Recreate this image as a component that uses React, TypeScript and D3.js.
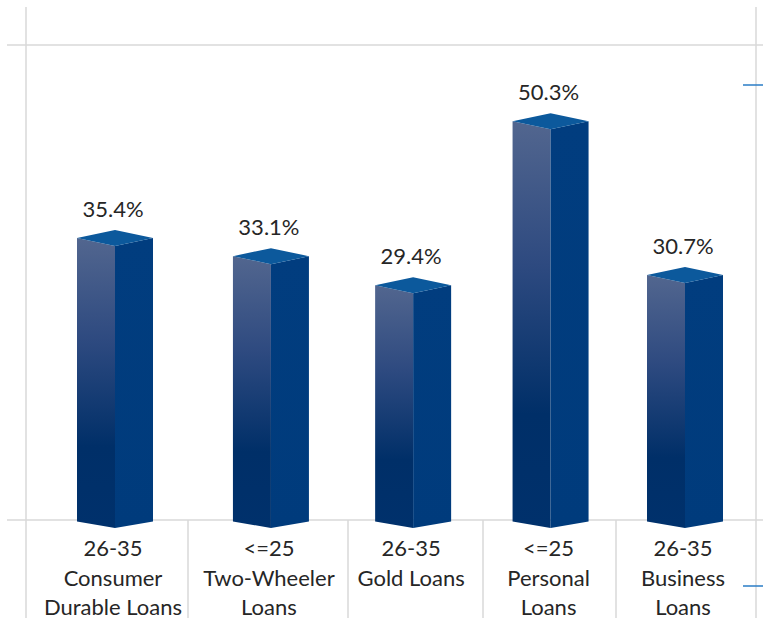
import React from "react";
import * as d3 from "d3";

const ageGroups = ["26-35", "<=25", "26-35", "<=25", "26-35"];
const loanTypes = [["Consumer", "Durable Loans"], ["Two-Wheeler", "Loans"], ["Gold Loans"], ["Personal", "Loans"], ["Business", "Loans"]];
const values = [35.4, 33.1, 29.4, 50.3, 30.7];
const yTicks = [0, 60];

const W = 763, H = 622;
const FONT = "Lato, 'Open Sans', sans-serif";

export default function App() {
  const y = d3.scaleLinear().domain([0, 60]).range([516, 45]);
  // slight perspective spacing of bar centres
  const xBar = d3.scalePow().exponent(0.935).domain([0, values.length - 1]).range([115, 685]);
  const xCell = d3.scaleLinear().domain([0, 1, 2, 3, 4, 5]).range([26, 188, 348, 483, 616, 756]);
  const half = 38, depth = 8;
  const baseY = 520, bottomCorner = 521.5, bottomFront = 528;
  const grid = "#d9d9d9";

  return (
    <svg width={W} height={H} style={{ position: "absolute", left: 0, top: 0, background: "#fff" }}>
      <defs>
        <linearGradient id="leftFace" x1="0" y1="0" x2="0" y2="1">
          <stop offset="0" stopColor="#52668F" />
          <stop offset="0.35" stopColor="#2E4A80" />
          <stop offset="0.72" stopColor="#002F68" />
          <stop offset="1" stopColor="#00316C" />
        </linearGradient>
        <linearGradient id="rightFace" x1="0" y1="0" x2="0" y2="1">
          <stop offset="0" stopColor="#013D7F" />
          <stop offset="1" stopColor="#003B7C" />
        </linearGradient>
      </defs>
      {/* frame & gridlines */}
      {yTicks.map((t) => (
        <line key={t} x1={7} x2={W} y1={t === 0 ? baseY : y(t)} y2={t === 0 ? baseY : y(t)} stroke={grid} strokeWidth={1.5} />
      ))}
      <line x1={xCell(0)} x2={xCell(0)} y1={7} y2={618} stroke={grid} strokeWidth={1.5} />
      <line x1={xCell(5)} x2={xCell(5)} y1={7} y2={618} stroke={grid} strokeWidth={1.5} />
      {d3.range(1, 5).map((i) => (
        <line key={i} x1={xCell(i)} x2={xCell(i)} y1={baseY} y2={618} stroke={grid} strokeWidth={1.5} />
      ))}
      <line x1={743} x2={W} y1={85} y2={85} stroke="#2A7CC6" strokeWidth={1.5} />
      <line x1={743} x2={W} y1={586} y2={586} stroke="#2A7CC6" strokeWidth={1.5} />

      {values.map((v, i) => {
        const cx = xBar(i);
        const yt = y(v);
        const left = `M${cx - half},${yt} L${cx},${yt + depth} L${cx},${bottomFront} L${cx - half},${bottomCorner} Z`;
        const right = `M${cx},${yt + depth} L${cx + half},${yt} L${cx + half},${bottomCorner} L${cx},${bottomFront} Z`;
        const top = `M${cx - half},${yt} L${cx},${yt - depth} L${cx + half},${yt} L${cx},${yt + depth} Z`;
        return (
          <g key={i}>
            <path d={left} fill="url(#leftFace)" />
            <path d={right} fill="url(#rightFace)" />
            <path d={top} fill="#0C599C" />
            <text x={cx - 2} y={yt - 21} textAnchor="middle" fontFamily={FONT} fontSize={22} fill="#262626">
              {v.toFixed(1)}%
            </text>
          </g>
        );
      })}

      {values.map((_, i) => {
        const cx = xBar(i) - 2;
        const lines = [ageGroups[i], ...loanTypes[i]];
        return (
          <text key={i} textAnchor="middle" fontFamily={FONT} fontSize={22} fill="#262626">
            {lines.map((l, j) => (
              <tspan key={j} x={cx} y={556 + j * 29.5}>{l}</tspan>
            ))}
          </text>
        );
      })}
    </svg>
  );
}
